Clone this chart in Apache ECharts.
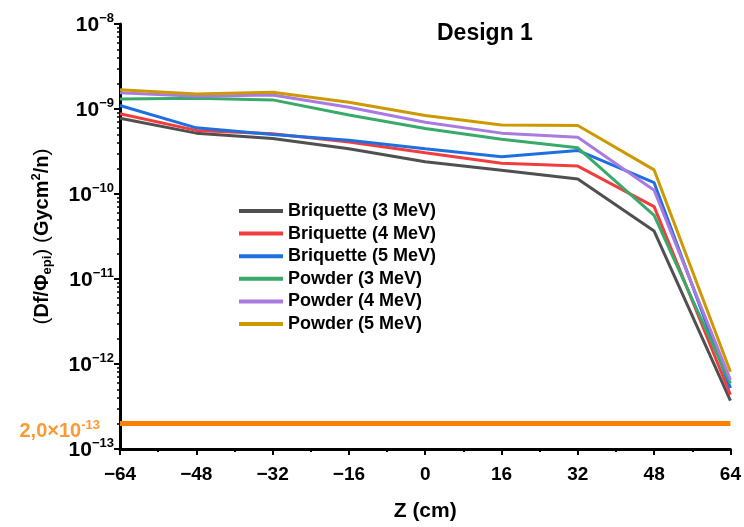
<!DOCTYPE html>
<html>
<head>
<meta charset="utf-8">
<script src="https://cdn.jsdelivr.net/npm/echarts@6/dist/echarts.min.js"></script>
<style>
  html, body { margin: 0; padding: 0; background: #fff; }
  #chart { width: 744px; height: 527px; }
</style>
</head>
<body>
<div id="chart"></div>
<script>
// Z positions (cm) and dose per epithermal fluence
const zValues = [-64, -48, -32, -16, 0, 16, 32, 48, 64]
const briquette3 = [7.8e-10, 5.2e-10, 4.5e-10, 3.4e-10, 2.4e-10, 1.9e-10, 1.5e-10, 3.66e-11, 3.7e-13]
const briquette4 = [8.8e-10, 5.6e-10, 5.1e-10, 4.1e-10, 3.05e-10, 2.3e-10, 2.13e-10, 7.1e-11, 4.35e-13]
const briquette5 = [1.1e-9, 6.0e-10, 5.0e-10, 4.3e-10, 3.4e-10, 2.75e-10, 3.25e-10, 1.36e-10, 5.2e-13]
const powder3 = [1.31e-9, 1.34e-9, 1.28e-9, 8.5e-10, 5.9e-10, 4.4e-10, 3.5e-10, 5.6e-11, 5.9e-13]
const powder4 = [1.55e-9, 1.41e-9, 1.46e-9, 1.05e-9, 7.0e-10, 5.2e-10, 4.65e-10, 1.11e-10, 6.5e-13]
const powder5 = [1.69e-9, 1.5e-9, 1.57e-9, 1.2e-9, 8.4e-10, 6.5e-10, 6.4e-10, 1.92e-10, 8.1e-13]
const threshold = 2.0e-13
const xTicks = [-64, -48, -32, -16, 0, 16, 32, 48, 64]

const seriesDefs = [
  { name: "Briquette (3 MeV)", data: briquette3, color: "#505050" },
  { name: "Briquette (4 MeV)", data: briquette4, color: "#f23d3f" },
  { name: "Briquette (5 MeV)", data: briquette5, color: "#1f6fe0" },
  { name: "Powder (3 MeV)", data: powder3, color: "#3aaa6a" },
  { name: "Powder (4 MeV)", data: powder4, color: "#a97ae0" },
  { name: "Powder (5 MeV)", data: powder5, color: "#cc9a00" }
]

const font = "'Liberation Sans', Arial, sans-serif"
const chart = echarts.init(document.getElementById("chart"), null, { renderer: "canvas" })

const series = seriesDefs.map(s => ({
  name: s.name,
  type: "line",
  data: s.data.map((v, i) => [zValues[i], v]),
  symbol: "none",
  lineStyle: { color: s.color, width: 3 },
  itemStyle: { color: s.color },
  z: 3
}))

// horizontal 2,0x10^-13 reference line across the whole Z range
series.push({
  name: "threshold",
  type: "line",
  data: [[-64, threshold], [64, threshold]],
  symbol: "none",
  lineStyle: { color: "#ff8000", width: 5 },
  z: 2
})

// its orange value label, left of the y axis
series.push({
  name: "thresholdLabel",
  type: "scatter",
  data: [[-64, threshold]],
  symbolSize: 0,
  silent: true,
  label: {
    show: true,
    position: "left",
    distance: 20,
    offset: [0, 7],
    formatter: "{m|2,0×10}{s|-13}",
    rich: {
      m: { color: "#ff8000", fontFamily: font, fontWeight: "bold", fontSize: 20, lineHeight: 22, verticalAlign: "bottom" },
      s: { color: "#ff8000", fontFamily: font, fontWeight: "bold", fontSize: 13, lineHeight: 22, verticalAlign: "top" }
    }
  }
})

chart.setOption({
  animation: false,
  backgroundColor: "#fff",
  title: {
    text: "Design 1",
    left: 432, top: 17,
    textStyle: { fontFamily: font, fontWeight: "bold", fontSize: 23, color: "#000" }
  },
  legend: {
    data: seriesDefs.map(s => s.name),
    orient: "vertical",
    left: 239, top: 202,
    padding: 0,
    itemWidth: 44, itemHeight: 4, itemGap: 4.6,
    icon: "rect",
    textStyle: { fontFamily: font, fontWeight: "bold", fontSize: 18, lineHeight: 18, color: "#000" }
  },
  grid: { left: 120, right: 13, top: 24, bottom: 70 },
  xAxis: {
    type: "value",
    min: -64, max: 64, interval: 16,
    name: "Z (cm)",
    nameLocation: "middle",
    nameGap: 52,
    nameTextStyle: { fontFamily: font, fontWeight: "bold", fontSize: 21, color: "#000" },
    axisLine: { lineStyle: { color: "#000", width: 3 } },
    axisTick: { inside: false, length: 6, lineStyle: { color: "#000", width: 2 } },
    minorTick: { show: true, splitNumber: 2, length: 3, lineStyle: { color: "#000", width: 2 } },
    splitLine: { show: false },
    axisLabel: {
      margin: 16,
      fontFamily: font, fontWeight: "bold", fontSize: 19, color: "#000",
      formatter: v => xTicks.includes(v) ? String(v).replace("-", "\u2212") : ""
    }
  },
  yAxis: {
    type: "log",
    logBase: 10,
    min: 1e-13, max: 1e-8,
    name: "{p|(}{a|Df/Φ}{b|epi}{p|)}{a| }{p|(}{a|Gycm}{c|2}{a|/n}{p|)}",
    nameLocation: "middle",
    nameGap: 66,
    nameTextStyle: {
      rich: {
        a: { fontFamily: font, fontWeight: "bold", fontSize: 20, color: "#000", lineHeight: 24, verticalAlign: "middle" },
        p: { fontFamily: font, fontWeight: "normal", fontSize: 21, color: "#000", lineHeight: 24, verticalAlign: "middle" },
        b: { fontFamily: font, fontWeight: "bold", fontSize: 13, color: "#000", lineHeight: 24, verticalAlign: "bottom" },
        c: { fontFamily: font, fontWeight: "bold", fontSize: 13, color: "#000", lineHeight: 24, verticalAlign: "top" }
      }
    },
    axisLine: { show: true, onZero: false, lineStyle: { color: "#000", width: 3 } },
    axisTick: { show: true, inside: false, length: 6, lineStyle: { color: "#000", width: 2 } },
    minorTick: { show: true, splitNumber: 9, length: 3, lineStyle: { color: "#000", width: 1.5 } },
    splitLine: { show: false },
    axisLabel: {
      margin: 6,
      formatter: v => "{m|10}{s|\u2212" + Math.round(-Math.log10(v)) + "}",
      rich: {
        m: { fontFamily: font, fontWeight: "bold", fontSize: 21, color: "#000", lineHeight: 24, verticalAlign: "bottom" },
        s: { fontFamily: font, fontWeight: "bold", fontSize: 13, color: "#000", lineHeight: 24, verticalAlign: "top" }
      }
    }
  },
  series
})
</script>
</body>
</html>
